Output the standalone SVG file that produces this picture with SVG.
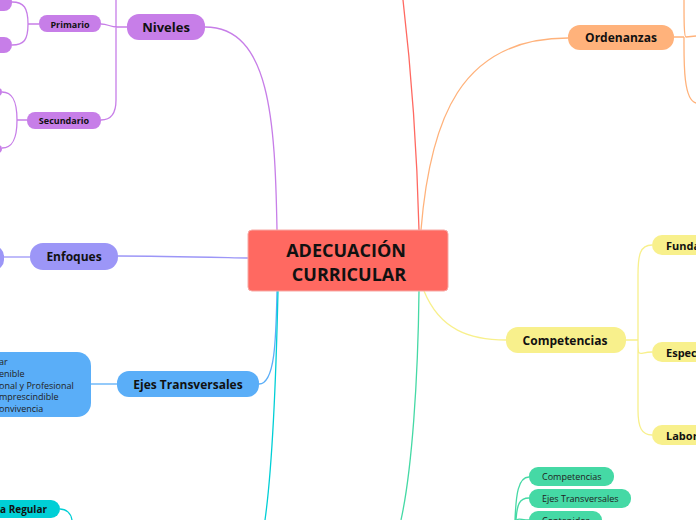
<svg xmlns="http://www.w3.org/2000/svg" width="696" height="520" viewBox="0 0 696 520">
<style>
.t{font-family:"Open Sans","Noto Sans","Liberation Sans",sans-serif;fill:#111;font-weight:bold;text-anchor:middle;dominant-baseline:central}
.s{font-family:"Open Sans","Noto Sans","Liberation Sans",sans-serif;fill:#222;font-size:9px;dominant-baseline:central}
.c{fill:none;stroke-width:1.3}
.pu{fill:#C77EE8}.la{fill:#9C96F7}.bl{fill:#5AAEF8}.te{fill:#00CFD6}.gr{fill:#45D9A5}.ye{fill:#F8F08C}.or{fill:#FFB27B}
</style>
<rect width="696" height="520" fill="#fff"/>
<g id="connectors">
  <path class="c" stroke="#FF6961" stroke-width="1.6" d="M419,230 C417,150 410,60 403,0"/>
  <path class="c" stroke="#FFB27B" d="M421,230 C430,120 460,38 568,38"/>
  <path class="c" stroke="#FFB27B" stroke-width="1" d="M674,37 L684,37 M684,0 C684,20 684,37 686,37 L696,36 M684,37 C684,60 683,100 696,103"/>
  <path class="c" stroke="#C77EE8" d="M277,230 C275,120 270,27 205,27"/>
  <path class="c" stroke="#C77EE8" stroke-width="1" d="M127,27 L117,27 M116,0 L116,100 C116,115 110,120 101,120 M101,24 C108,24 110,27 117,27"/>
  <path class="c" stroke="#C77EE8" stroke-width="1" d="M39,24 L28,24 M28,24 C28,8 24,2 12,2 M28,24 C28,40 24,45 12,45"/>
  <path class="c" stroke="#C77EE8" stroke-width="1" d="M27,120 L17,120 M17,120 C17,100 12,92 2,92 M17,120 C17,140 12,148 2,148"/>
  <path class="c" stroke="#9C96F7" stroke-width="1.6" d="M248,258 C200,257 160,256 118,256"/>
  <path class="c" stroke="#9C96F7" stroke-width="1" d="M30,257 L4,257"/>
  <path class="c" stroke="#5AAEF8" d="M277,291 C276,340 275,384 259,384"/>
  <path class="c" stroke="#5AAEF8" stroke-width="1" d="M91,384 L117,384"/>
  <path class="c" stroke="#00CFD6" stroke-width="1.6" d="M278,291 C276,380 272,470 265,520"/>
  <path class="c" stroke="#00CFD6" stroke-width="1" d="M60,509 C66,509 71,513 72,520"/>
  <path class="c" stroke="#45D9A5" stroke-width="1.6" d="M419,291 C418,380 412,470 401,520"/>
  <path class="c" stroke="#45D9A5" stroke-width="1" d="M515,520 C516,495 518,477 529,477 M516,520 C517,505 519,498 529,498 M517,520 C518,518 522,520 529,520"/>
  <path class="c" stroke="#F8F08C" d="M424,291 C440,330 470,340 506,340"/>
  <path class="c" stroke="#F8F08C" stroke-width="1" d="M626,340 L638,340 M638,340 C638,360 638,352 652,352 M652,245 C640,245 638,255 638,275 L638,410 C638,428 642,435 652,435"/>
</g>
<g id="central">
  <rect x="248" y="230" width="200" height="61" rx="4" fill="#FF6961" stroke="#f7a9a5" stroke-width="1"/>
  <text class="t" x="346" y="249.5" font-size="18">ADECUACIÓN</text>
  <text class="t" x="349" y="274" font-size="18">CURRICULAR</text>
</g>
<g id="niveles">
  <rect class="pu" x="127" y="14" width="78" height="26" rx="12"/>
  <text class="t" x="166" y="27" font-size="13">Niveles</text>
</g>
<g id="primario">
  <rect class="pu" x="39" y="15" width="62" height="17" rx="8"/>
  <text class="t" x="70" y="24" font-size="9">Primario</text>
</g>
<g id="secundario">
  <rect class="pu" x="27" y="112" width="74" height="17" rx="8"/>
  <text class="t" x="64" y="120.5" font-size="9">Secundario</text>
</g>
<g id="prim-c1"><rect class="pu" x="-20" y="-6" width="32" height="17" rx="8"/></g>
<g id="prim-c2"><rect class="pu" x="-20" y="37" width="32" height="16" rx="8"/></g>
<g id="sec-c1"><rect class="pu" x="-30" y="88" width="32" height="8" rx="4"/></g>
<g id="sec-c2"><rect class="pu" x="-30" y="145" width="32" height="8" rx="4"/></g>
<g id="enfoques">
  <rect class="la" x="30" y="243" width="88" height="27" rx="13"/>
  <text class="t" x="74" y="256.5" font-size="12">Enfoques</text>
</g>
<g id="enfoques-c"><rect class="la" x="-20" y="246" width="24" height="24" rx="10"/></g>
<g id="ejes">
  <rect class="bl" x="117" y="371" width="142" height="26" rx="12"/>
  <text class="t" x="188" y="384" font-size="12">Ejes Transversales</text>
</g>
<g id="ejes-list">
  <rect class="bl" x="-40" y="352" width="131" height="65" rx="14"/>
  <text class="s" x="-1" y="361">ar</text>
  <text class="s" x="-1" y="373">enible</text>
  <text class="s" x="-1" y="385">onal y Profesional</text>
  <text class="s" x="-1" y="396.5">mprescindible</text>
  <text class="s" x="-1" y="408.5">onvivencia</text>
</g>
<g id="regular">
  <rect class="te" x="-30" y="500" width="90" height="18" rx="9"/>
  <text class="t" x="0" y="509" font-size="10" style="text-anchor:start">a Regular</text>
</g>
<g id="ordenanzas">
  <rect class="or" x="568" y="25" width="106" height="25" rx="12"/>
  <text class="t" x="621" y="37.5" font-size="12">Ordenanzas</text>
</g>
<g id="competencias">
  <rect class="ye" x="506" y="327" width="120" height="26" rx="12"/>
  <text class="t" x="565" y="340" font-size="12">Competencias</text>
</g>
<g id="fundamentales">
  <rect class="ye" x="652" y="235" width="70" height="20" rx="10"/>
  <text class="t" x="666" y="245" font-size="11" style="text-anchor:start">Funda</text>
</g>
<g id="especificas">
  <rect class="ye" x="652" y="342" width="70" height="20" rx="10"/>
  <text class="t" x="666" y="352" font-size="11" style="text-anchor:start">Espec</text>
</g>
<g id="laborales">
  <rect class="ye" x="652" y="425" width="70" height="20" rx="10"/>
  <text class="t" x="666" y="435" font-size="11" style="text-anchor:start">Labor</text>
</g>
<g id="g-competencias">
  <rect class="gr" x="529" y="467" width="85" height="19" rx="9"/>
  <text class="s" x="542" y="476.5">Competencias</text>
</g>
<g id="g-ejes">
  <rect class="gr" x="529" y="489" width="102" height="19" rx="9"/>
  <text class="s" x="542" y="498.5">Ejes Transversales</text>
</g>
<g id="g-contenidos">
  <rect class="gr" x="529" y="511" width="73" height="19" rx="9"/>
  <text class="s" x="542" y="520.5">Contenidos</text>
</g>
</svg>
